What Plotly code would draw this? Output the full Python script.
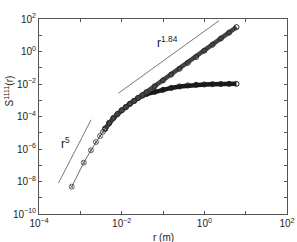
import plotly.graph_objects as go

# ---- data ----
# shared sparse points at small separations (both series coincide)
r_small = [6.2e-4, 1.21e-3, 1.81e-3, 2.39e-3, 3.0e-3, 3.5e-3, 4.0e-3]
S_small = [4.8e-9, 1.45e-7, 8.3e-7, 2.7e-6, 6.3e-6, 1.12e-5, 1.78e-5]

# dense part, series A (keeps rising)
r_dense_a = [5.0e-3, 6.3e-3, 7.9e-3, 1.0e-2, 1.26e-2, 1.58e-2, 2.0e-2, 2.5e-2,
             3.16e-2, 3.98e-2, 6.3e-2, 0.1, 0.158, 0.251, 0.398, 0.631, 1.0,
             1.58, 2.51, 3.98, 6.0]
S_dense_a = [3.98e-5, 7.94e-5, 1.41e-4, 2.40e-4, 3.80e-4, 6.03e-4, 9.12e-4, 1.38e-3,
             2.09e-3, 3.16e-3, 7.24e-3, 1.66e-2, 3.80e-2, 8.71e-2, 0.200, 0.457, 1.12,
             2.63, 6.31, 14.5, 31.6]

# dense part, series B (saturates)
r_dense_b = [5.0e-3, 6.3e-3, 7.9e-3, 1.0e-2, 1.26e-2, 1.58e-2, 2.0e-2, 2.5e-2,
             3.16e-2, 3.98e-2, 6.3e-2, 0.1, 0.158, 0.251, 0.398, 0.631, 1.0,
             1.58, 2.51, 3.98, 6.0]
S_dense_b = [3.98e-5, 7.94e-5, 1.41e-4, 2.40e-4, 3.80e-4, 6.03e-4, 9.12e-4, 1.38e-3,
             1.91e-3, 2.40e-3, 3.31e-3, 4.37e-3, 5.75e-3, 7.08e-3, 8.13e-3, 8.91e-3,
             9.33e-3, 9.77e-3, 1.0e-2, 1.02e-2, 1.02e-2]

# reference power-law guide lines
r5_x = [2.96e-4, 1.82e-3]
r5_y = [7.94e-9, 6.31e-5]
r184_x = [8.3e-3, 2.26]
r184_y = [2.68e-3, 78.5]

# tick labels
x_tickvals = [1e-4, 1e-3, 1e-2, 1e-1, 1e0, 1e1, 1e2]
x_ticktext = ["10<sup>−4</sup>", " ", "10<sup>−2</sup>", " ", "10<sup>0</sup>", " ", "10<sup>2</sup>"]
y_tickvals = [1e-10, 1e-9, 1e-8, 1e-7, 1e-6, 1e-5, 1e-4, 1e-3, 1e-2, 1e-1, 1e0, 1e1, 1e2]
y_ticktext = ["10<sup>−10</sup>", " ", "10<sup>−8</sup>", " ", "10<sup>−6</sup>", " ",
              "10<sup>−4</sup>", " ", "10<sup>−2</sup>", " ", "10<sup>0</sup>", " ", "10<sup>2</sup>"]

FONT = "Liberation Sans, Arial, sans-serif"

fig = go.Figure()

# guide lines
fig.add_trace(go.Scatter(x=r5_x, y=r5_y, mode="lines",
                         line=dict(color="#555555", width=0.8), showlegend=False))
fig.add_trace(go.Scatter(x=r184_x, y=r184_y, mode="lines",
                         line=dict(color="#555555", width=0.8), showlegend=False))

# sparse section: thin line with crossed circles
fig.add_trace(go.Scatter(x=r_small + r_dense_a[:1], y=S_small + S_dense_a[:1],
                         mode="lines+markers",
                         line=dict(color="#444444", width=0.8),
                         marker=dict(symbol="circle-x-open", size=5, color="#444444",
                                     line=dict(width=0.8)),
                         showlegend=False))

# dense bands (many overlapping markers in the original)
fig.add_trace(go.Scatter(x=r_small[-1:] + r_dense_b, y=S_small[-1:] + S_dense_b,
                         mode="lines+markers",
                         line=dict(color="#1a1a1a", width=4.5),
                         marker=dict(symbol="circle-open", size=5, color="#1a1a1a",
                                     line=dict(width=1)),
                         showlegend=False))
fig.add_trace(go.Scatter(x=r_small[-1:] + r_dense_a, y=S_small[-1:] + S_dense_a,
                         mode="lines+markers",
                         line=dict(color="#444444", width=4.5),
                         marker=dict(symbol="circle-open", size=5, color="#2a2a2a",
                                     line=dict(width=1)),
                         showlegend=False))

axis_common = dict(type="log", showgrid=False, zeroline=False, showline=True,
                   linecolor="#555555", linewidth=1, mirror="ticks", ticks="inside",
                   ticklen=3, tickcolor="#555555", automargin=False,
                   tickfont=dict(family=FONT, size=10, color="#222222"))

fig.update_xaxes(range=[-4, 2], tickvals=x_tickvals, ticktext=x_ticktext, **axis_common)
fig.update_yaxes(range=[-10, 2], tickvals=y_tickvals, ticktext=y_ticktext, **axis_common)

fig.add_annotation(x=-3.35, y=-5.63, xref="x", yref="y", text="r<sup>5</sup>",
                   showarrow=False, font=dict(family=FONT, size=12, color="#222222"))
fig.add_annotation(x=-0.903, y=0.585, xref="x", yref="y", text="r<sup>1.84</sup>",
                   showarrow=False, font=dict(family=FONT, size=12, color="#222222"))
fig.add_annotation(x=-0.12, y=0.63, xref="paper", yref="paper",
                   xanchor="center", yanchor="middle",
                   text="S<sup>1111</sup>(r)", textangle=-90, showarrow=False,
                   font=dict(family=FONT, size=10, color="#222222"))
fig.add_annotation(x=0.5, y=-0.118, xref="paper", yref="paper", text="r (m)",
                   xanchor="center", yanchor="middle",
                   showarrow=False, font=dict(family=FONT, size=10, color="#222222"))

fig.update_layout(template="none", width=297, height=242,
                  margin=dict(l=39, r=10, t=19, b=28),
                  plot_bgcolor="white", paper_bgcolor="white", showlegend=False)

fig.write_html("out.html", config={"displayModeBar": False, "staticPlot": True},
               post_script="document.body.style.margin='0';document.body.style.overflow='hidden';")
